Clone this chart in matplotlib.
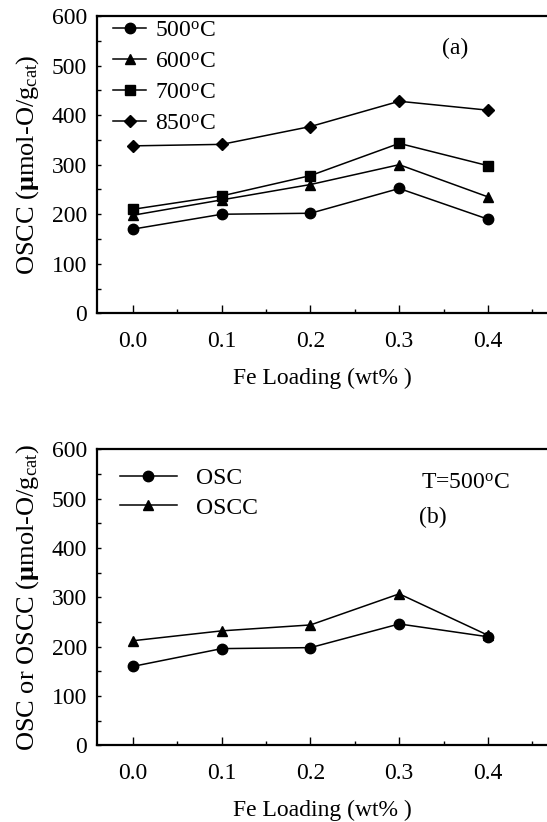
import matplotlib
matplotlib.use("Agg")
import matplotlib.pyplot as plt
from matplotlib.ticker import MultipleLocator

plt.rcParams["font.family"] = ["Liberation Serif", "DejaVu Serif"]
plt.rcParams["mathtext.fontset"] = "custom"
plt.rcParams["mathtext.rm"] = "Liberation Serif"
plt.rcParams["mathtext.it"] = "Liberation Serif:italic"
plt.rcParams["mathtext.bf"] = "Liberation Serif:bold"

# Data
fe_loading = [0.0, 0.1, 0.2, 0.3, 0.4]

oscc_500 = [170, 200, 202, 252, 190]
oscc_600 = [198, 229, 260, 300, 235]
oscc_700 = [210, 237, 278, 343, 298]
oscc_850 = [338, 341, 377, 428, 410]

osc_b = [160, 196, 198, 246, 220]
oscc_b = [212, 232, 244, 307, 223]

temps = ["500", "600", "700", "850"]
markers_a = ["o", "^", "s", "D"]

fig = plt.figure(figsize=(5.47, 8.22), dpi=100)
ax1 = fig.add_axes([0.1773, 0.6188, 0.8227, 0.3617])
ax2 = fig.add_axes([0.1773, 0.0933, 0.8227, 0.3601])


def style_axis(ax):
    ax.set_xlim(-0.0406, 0.4665)
    ax.set_ylim(0, 600)
    ax.xaxis.set_major_locator(MultipleLocator(0.1))
    ax.xaxis.set_minor_locator(MultipleLocator(0.05))
    ax.yaxis.set_major_locator(MultipleLocator(100))
    ax.yaxis.set_minor_locator(MultipleLocator(50))
    ax.xaxis.set_major_formatter(plt.FormatStrFormatter("%.1f"))
    ax.spines["right"].set_visible(False)
    for s in ["left", "bottom", "top"]:
        ax.spines[s].set_linewidth(1.6)
    ax.tick_params(which="both", direction="in", labelsize=17, width=1.0)
    ax.tick_params(axis="x", which="major", length=6, pad=13)
    ax.tick_params(axis="x", which="minor", length=3)
    ax.tick_params(axis="y", which="major", length=3, pad=7)
    ax.tick_params(axis="y", which="minor", length=3)
    ax.tick_params(top=False, right=False, which="both")
    ax.set_xlabel("Fe Loading (wt% )", fontsize=17, labelpad=11)


# Panel (a)
series_a = [oscc_500, oscc_600, oscc_700, oscc_850]
for vals, t, m in zip(series_a, temps, markers_a):
    ax1.plot(fe_loading, vals, color="black", marker=m, markersize=7.5 if m != "D" else 6.5,
             linewidth=1.1, label=t + r"$^{\rm o}$C")
style_axis(ax1)
ax1.set_ylabel(r"OSCC ($\mathbf{\mu}$mol-O/g$_{\rm cat}$)", fontsize=19, labelpad=8)
ax1.legend(loc="upper left", bbox_to_anchor=(0.005, 1.035), frameon=False, fontsize=17,
           handlelength=1.4, handletextpad=0.35, labelspacing=0.4, borderaxespad=0.2)
ax1.annotate("(a)", xy=(455 / 547, 1 - 48 / 822), xycoords="figure fraction",
             fontsize=17, ha="center", va="center")

# Panel (b)
ax2.plot(fe_loading, osc_b, color="black", marker="o", markersize=7.5, linewidth=1.1, label="OSC")
ax2.plot(fe_loading, oscc_b, color="black", marker="^", markersize=7.5, linewidth=1.1, label="OSCC")
style_axis(ax2)
ax2.set_ylabel(r"OSC or OSCC ($\mathbf{\mu}$mol-O/g$_{\rm cat}$)", fontsize=19, labelpad=8)
ax2.legend(loc="upper left", bbox_to_anchor=(0.02, 0.985), frameon=False, fontsize=17,
           handlelength=2.4, handletextpad=0.8, labelspacing=0.33, borderaxespad=0.2)
ax2.annotate(r"T=500$^{\rm o}$C", xy=(465 / 547, 1 - 483 / 822), xycoords="figure fraction",
             fontsize=17, ha="center", va="center")
ax2.annotate("(b)", xy=(433 / 547, 1 - 517 / 822), xycoords="figure fraction",
             fontsize=17, ha="center", va="center")

fig.savefig("out.png", dpi=100)
